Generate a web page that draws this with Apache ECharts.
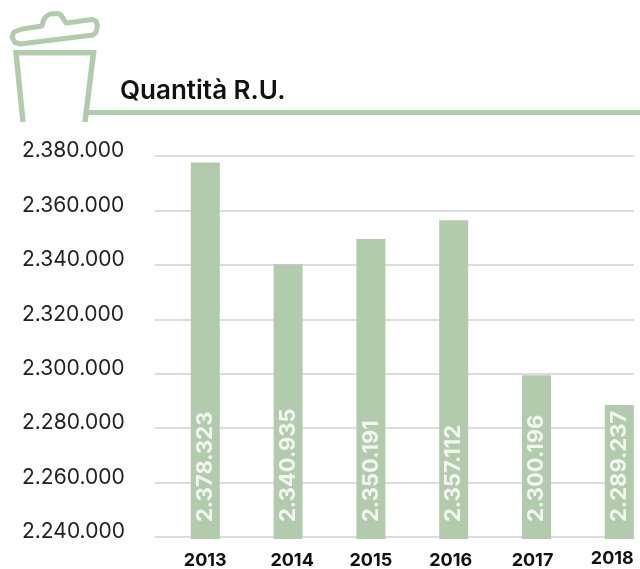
<!DOCTYPE html>
<html><head><meta charset="utf-8">
<style>html,body{margin:0;padding:0;background:#fff}#c{width:640px;height:569px}</style>
<script src="https://cdn.jsdelivr.net/npm/echarts@6/dist/echarts.min.js"></script>
</head><body><div id="c"></div>
<script>
const years = ['2013','2014','2015','2016','2017','2018'];
const quantities = [2378323,2340935,2350191,2357112,2300196,2289237];
const axisMin = 2240000, axisMax = 2380000, axisStep = 20000;
const titleText = 'Quantità R.U.';

const GREEN = '#b3cbad';
const FONT = 'Inter, "Noto Sans", sans-serif';
const dots = v => String(v).replace(/\B(?=(\d{3})+$)/g, '.');
const nudge = {'2014':[0,0,0,8],'2016':[0,6,0,0],'2017':[0,8,0,0],'2018':[0,14,0,0]};
const rich = {};
years.forEach(y => { rich['y'+y] = {fontFamily:FONT,fontSize:18,fontWeight:700,color:'#111',lineHeight:y==='2018'?14:18,padding:nudge[y]||0}; });

const chart = echarts.init(document.getElementById('c'), null, {renderer:'canvas'});
chart.setOption({
  animation:false,
  backgroundColor:'#fff',
  title:{text:titleText,left:120,top:78,padding:0,textStyle:{fontFamily:FONT,fontSize:26,fontWeight:600,color:'#111'}},
  grid:[
    {left:155,right:6,top:156,bottom:32,outerBoundsMode:'none'},
    {left:163.9,width:496.8,top:158,bottom:30,outerBoundsMode:'none'}
  ],
  xAxis:[
    {gridIndex:0,type:'category',data:years,show:false},
    {gridIndex:1,type:'category',data:years,
     axisLine:{show:false},axisTick:{show:false},splitLine:{show:false},
     axisLabel:{interval:0,margin:13,formatter:v=>'{y'+v+'|'+v+'}',rich,fontFamily:FONT,fontSize:18}}
  ],
  yAxis:[
    {gridIndex:0,type:'value',min:axisMin,max:axisMax,interval:axisStep,
     axisLine:{show:false},axisTick:{show:false},
     splitLine:{lineStyle:{color:'#dcdcdc',width:2}},
     axisLabel:{align:'left',verticalAlign:'bottom',lineHeight:10,margin:133,fontFamily:FONT,fontSize:21,color:'#222',formatter:dots}},
    {gridIndex:1,type:'value',min:axisMin,max:axisMax,show:false,splitLine:{show:false}}
  ],
  series:[{
    type:'bar',xAxisIndex:1,yAxisIndex:1,data:quantities,barWidth:29,
    itemStyle:{color:GREEN},
    label:{show:true,position:'insideBottom',distance:17,rotate:90,align:'left',verticalAlign:'middle',
      fontFamily:FONT,fontSize:22,fontWeight:700,color:'#f2f5f0',formatter:p=>dots(p.value)}
  }],
  graphic:[
    {type:'rect',shape:{x:87,y:110,width:553,height:5},style:{fill:GREEN}},
    {type:'polyline',shape:{points:[[23,122],[16,52.7],[93.5,52.7],[85,122]]},style:{stroke:GREEN,lineWidth:5.5,fill:null}},
    {type:'polygon',shape:{points:[[22,29],[42,26],[43.5,20],[46,16.5],[50,14],[58,13.5],[61,15],[66,23],[92,19.5],[96,21],[97.5,26],[96,32],[93,35],[20,44],[15,42.5],[12,37],[14,32],[22,29]]},
     style:{stroke:GREEN,lineWidth:5,fill:null,lineJoin:'round'}}
  ]
});
</script></body></html>
